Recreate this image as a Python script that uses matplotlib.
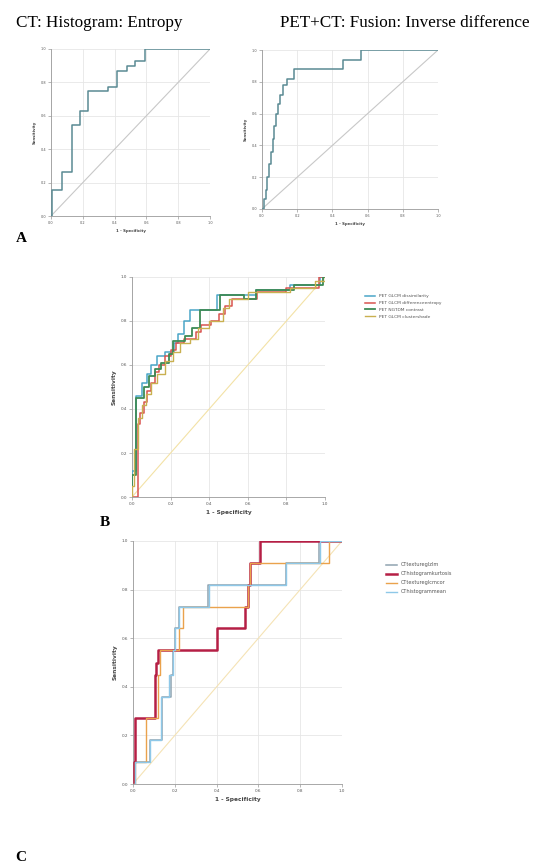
import matplotlib.pyplot as plt
import numpy as np

# ---- data (step corners: fpr where tpr jumps, tpr after jump) ----
a1_fpr = [0.0, 0.005, 0.067, 0.13, 0.18, 0.235, 0.36, 0.417, 0.476, 0.528, 0.591, 1.0]
a1_tpr = [0.0, 0.156, 0.266, 0.546, 0.626, 0.746, 0.772, 0.866, 0.896, 0.926, 1.0, 1.0]

a2_fpr = [0.0, 0.01, 0.02, 0.03, 0.04, 0.05, 0.06, 0.07, 0.08, 0.09, 0.10, 0.12, 0.14, 0.18, 0.462, 0.56, 1.0]
a2_tpr = [0.0, 0.06, 0.12, 0.2, 0.28, 0.36, 0.44, 0.52, 0.6, 0.66, 0.72, 0.78, 0.82, 0.88, 0.937, 1.0, 1.0]

b_labels = ["PET GLCM dissimilarity", "PET GLCM differenceentropy",
            "PET NGTDM contrast", "PET GLCM clustershade"]
b_fpr = [
    [0.0, 0.0, 0.02, 0.05, 0.08, 0.10, 0.13, 0.17, 0.22, 0.24, 0.27, 0.30, 0.44, 0.465, 0.64, 0.82, 0.975, 1.0],
    [0.0, 0.03, 0.04, 0.06, 0.08, 0.10, 0.12, 0.14, 0.17, 0.20, 0.23, 0.27, 0.33, 0.36, 0.41, 0.45, 0.48, 0.52, 0.65, 0.80, 0.97, 1.0],
    [0.0, 0.0, 0.02, 0.06, 0.09, 0.12, 0.15, 0.19, 0.215, 0.276, 0.31, 0.353, 0.457, 0.58, 0.64, 0.84, 0.99, 1.0],
    [0.0, 0.0, 0.01, 0.03, 0.05, 0.07, 0.10, 0.13, 0.17, 0.21, 0.25, 0.30, 0.34, 0.40, 0.47, 0.50, 0.60, 0.82, 0.95, 1.0],
]
b_tpr = [
    [0.0, 0.12, 0.46, 0.52, 0.56, 0.60, 0.64, 0.66, 0.70, 0.74, 0.80, 0.85, 0.92, 0.92, 0.94, 0.965, 1.0, 1.0],
    [0.0, 0.33, 0.38, 0.43, 0.48, 0.52, 0.57, 0.60, 0.64, 0.67, 0.70, 0.72, 0.75, 0.78, 0.80, 0.83, 0.87, 0.90, 0.93, 0.95, 1.0, 1.0],
    [0.0, 0.10, 0.45, 0.50, 0.55, 0.58, 0.61, 0.65, 0.71, 0.73, 0.77, 0.85, 0.92, 0.90, 0.94, 0.965, 1.0, 1.0],
    [0.0, 0.05, 0.22, 0.36, 0.42, 0.47, 0.52, 0.56, 0.62, 0.66, 0.70, 0.72, 0.77, 0.80, 0.86, 0.90, 0.93, 0.95, 0.98, 1.0],
]

c_labels = ["CTtextureglzlm", "CThistogramkurtosis", "CTtextureglcmcor", "CThistogrammean"]
c_fpr = [
    [0.0, 0.01, 0.08, 0.14, 0.18, 0.19, 0.20, 0.22, 0.36, 0.73, 0.89, 1.0],
    [0.0, 0.005, 0.01, 0.105, 0.11, 0.12, 0.40, 0.535, 0.55, 0.56, 0.61, 1.0],
    [0.0, 0.01, 0.06, 0.12, 0.13, 0.22, 0.24, 0.37, 0.55, 0.56, 0.94, 1.0],
    [0.0, 0.01, 0.08, 0.135, 0.17, 0.19, 0.20, 0.22, 0.365, 0.73, 0.895, 1.0],
]
c_tpr = [
    [0.0, 0.09, 0.18, 0.36, 0.45, 0.55, 0.64, 0.73, 0.82, 0.91, 1.0, 1.0],
    [0.0, 0.09, 0.27, 0.45, 0.50, 0.55, 0.64, 0.73, 0.82, 0.91, 1.0, 1.0],
    [0.0, 0.09, 0.27, 0.45, 0.55, 0.64, 0.73, 0.73, 0.82, 0.91, 1.0, 1.0],
    [0.0, 0.09, 0.18, 0.36, 0.45, 0.55, 0.64, 0.73, 0.82, 0.91, 1.0, 1.0],
]

ticks = [0.0, 0.2, 0.4, 0.6, 0.8, 1.0]

W, H = 535, 863
fig = plt.figure(figsize=(W / 100, H / 100), dpi=100)


def px_axes(left, top, right, bottom):
    return fig.add_axes([left / W, 1 - bottom / H, (right - left) / W, (bottom - top) / H])


def style_roc(ax, diag_color, fs_tick, fs_lab):
    ax.set_xlim(0, 1)
    ax.set_ylim(0, 1)
    ax.set_xticks(ticks)
    ax.set_yticks(ticks)
    ax.set_xticklabels(["%.1f" % t for t in ticks], fontsize=fs_tick, color='#555555')
    ax.set_yticklabels(["%.1f" % t for t in ticks], fontsize=fs_tick, color='#555555')
    ax.grid(True, color='#e6e6e6', lw=0.6)
    ax.set_axisbelow(True)
    for s in ['top', 'right']:
        ax.spines[s].set_visible(False)
    for s in ['left', 'bottom']:
        ax.spines[s].set_color('#9a9a9a')
        ax.spines[s].set_linewidth(0.6)
    ax.tick_params(length=2, width=0.5, color='#9a9a9a', pad=1.5)
    ax.plot([0, 1], [0, 1], color=diag_color, lw=0.8, zorder=1)
    ax.set_xlabel("1 - Specificity", fontsize=fs_lab, fontweight='bold', color='#444444', labelpad=3)
    ax.set_ylabel("Sensitivity", fontsize=fs_lab, fontweight='bold', color='#444444', labelpad=3)


serif = 'Liberation Serif'

# ---- panel A ----
fig.text(16 / W, 1 - 23 / H, "CT: Histogram: Entropy", fontsize=12.3, family=serif, va='center')
fig.text(280 / W, 1 - 23 / H, "PET+CT: Fusion: Inverse difference", fontsize=12.3, family=serif, va='center')

ax1 = px_axes(51, 49, 210, 216)
style_roc(ax1, '#c8c8c8', 2.5, 2.8)
ax1.step(a1_fpr, a1_tpr, where='post', color='#5a8a93', lw=1.1, zorder=3)

ax2 = px_axes(262, 50, 438, 209)
style_roc(ax2, '#c8c8c8', 2.5, 2.8)
ax2.step(a2_fpr, a2_tpr, where='post', color='#5a8a93', lw=1.1, zorder=3)

fig.text(16 / W, 1 - 238 / H, "A", fontsize=11, family=serif, fontweight='bold', va='center')

# ---- panel B ----
b_colors = ['#4aa6c8', '#d9534f', '#3d8a55', '#c9b050']
b_lw = [1.1, 1.1, 1.3, 1.0]
axb = px_axes(132, 277, 325, 497)
style_roc(axb, '#f3e2a6', 3.0, 4.2)
for fx, ty, c, lw, lab in zip(b_fpr, b_tpr, b_colors, b_lw, b_labels):
    axb.step(fx, ty, where='post', color=c, lw=lw, label=lab, zorder=3)
axb.legend(loc='upper left', bbox_to_anchor=(1.2, 0.93), frameon=False, fontsize=3.2,
           handlelength=2.2, labelspacing=0.6, borderaxespad=0, labelcolor='#555555')
fig.text(100 / W, 1 - 523 / H, "B", fontsize=11, family=serif, fontweight='bold', va='center')

# ---- panel C ----
c_colors = ['#8fa3b0', '#b51f45', '#eaa24c', '#8ec8e8']
c_lw = [1.1, 1.8, 1.0, 1.0]
axc = px_axes(133, 541, 342, 784)
style_roc(axc, '#f5e3b5', 3.0, 4.2)
for fx, ty, c, lw, lab in zip(c_fpr, c_tpr, c_colors, c_lw, c_labels):
    axc.step(fx, ty, where='post', color=c, lw=lw, label=lab, zorder=3)
axc.legend(loc='upper left', bbox_to_anchor=(1.2, 0.92), frameon=False, fontsize=3.6,
           handlelength=2.2, labelspacing=0.8, borderaxespad=0, labelcolor='#555555')
fig.text(15 / W, 1 - 857 / H, "C", fontsize=11, family=serif, fontweight='bold', va='center')

fig.savefig('out.png', dpi=100)
